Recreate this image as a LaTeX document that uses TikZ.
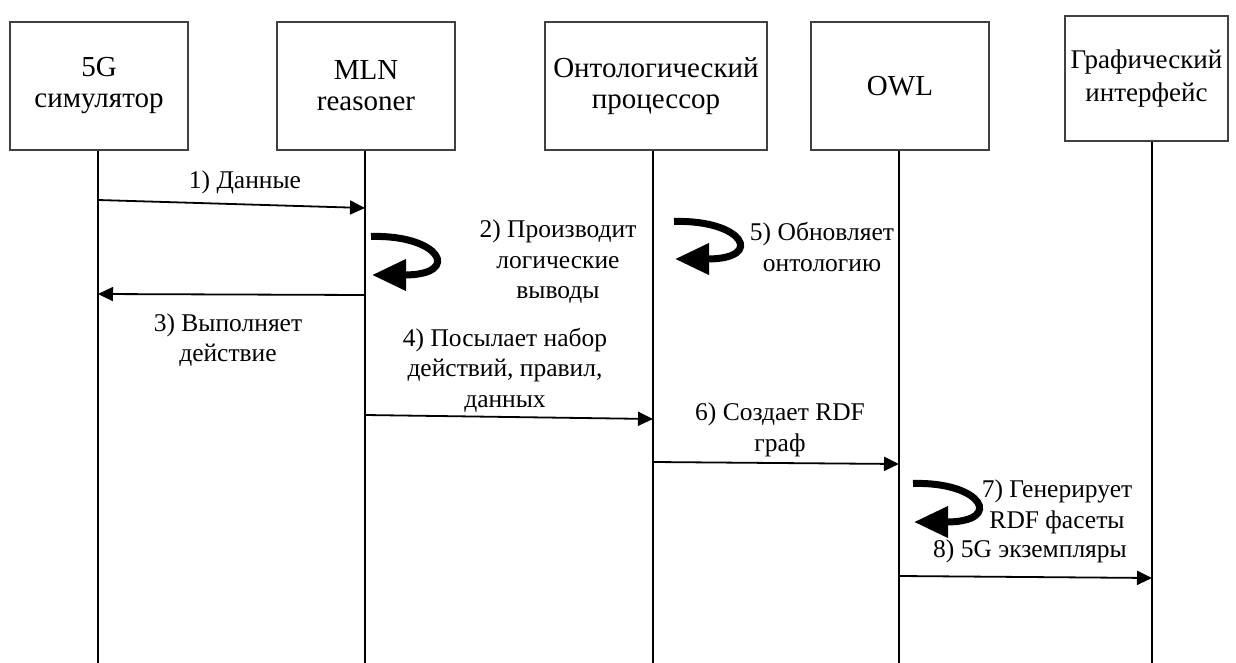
\documentclass[tikz,border=0pt]{standalone}
\usepackage{fontspec}
\setmainfont{Liberation Serif}
\usetikzlibrary{arrows.meta}
\tikzset{
 actor/.style={draw=black!75, line width=1.5pt, inner sep=0pt, align=center, font=\fontsize{29}{31}\selectfont},
 life/.style={line width=2pt},
 msg/.style={line width=1.8pt, -{Triangle[length=15pt,width=14pt]}},
 curl/.style={line width=7pt, -{Triangle[length=34pt,width=30pt]}},
 lbl/.style={align=center, font=\fontsize{25.5}{30.5}\selectfont, inner sep=0pt},
}
\begin{document}
\begin{tikzpicture}[x=1pt,y=-1pt]
\useasboundingbox (0,0) rectangle (1236,663);
% actors
\node[actor, minimum width=178pt, minimum height=128pt] (b1) at (99,86) {5G\\симулятор};
\node[actor, minimum width=178pt, minimum height=128pt] (b2) at (366,86) {MLN\\reasoner};
\node[actor, minimum width=222pt, minimum height=128pt] (b3) at (656,86) {Онтологический\\процессор};
\node[actor, minimum width=178pt, minimum height=128pt] (b4) at (900,86) {OWL};
\node[actor, minimum width=163pt, minimum height=125pt, font=\fontsize{27}{33}\selectfont] (b5) at (1146.5,78.5) {Графический\\интерфейс};
% lifeline ends
\coordinate (e1) at (98,663);
\coordinate (e2) at (365,663);
\coordinate (e3) at (653,663);
\coordinate (e4) at (899,663);
\coordinate (e5) at (1152,663);
\draw[life] (b1.south -| e1) -- (e1);
\draw[life] (b2.south -| e2) -- (e2);
\draw[life] (b3.south -| e3) -- (e3);
\draw[life] (b4.south -| e4) -- (e4);
\draw[life] (b5.south -| e5) -- (e5);
% message points
\coordinate (m1s) at (98,200);  \coordinate (m1e) at (365,208);
\coordinate (m3s) at (365,295); \coordinate (m3e) at (98,294);
\coordinate (m4s) at (365,415); \coordinate (m4e) at (653,419);
\coordinate (m6s) at (653,462); \coordinate (m6e) at (899,464);
\coordinate (m8s) at (899,576); \coordinate (m8e) at (1152,578);
\draw[msg] (m1s) -- (m1e);
\draw[msg] (m3s) -- (m3e);
\draw[msg] (m4s) -- (m4e);
\draw[msg] (m6s) -- (m6e);
\draw[msg] (m8s) -- (m8e);
% curls
\coordinate (c2) at (371,236.5); \coordinate (t2) at (372,275);
\coordinate (c5) at (674,221.5); \coordinate (t5) at (675,259);
\coordinate (c7) at (913,483.5); \coordinate (t7) at (914,522);
\draw[curl] (c2) .. controls +(70,-2) and +(90,0) .. (t2);
\draw[curl] (c5) .. controls +(70,-2) and +(90,0) .. (t5);
\draw[curl] (c7) .. controls +(70,-2) and +(90,0) .. (t7);
% labels
\node[lbl] (l1) at (245,182) {1) Данные};
\node[lbl] (l2) at (558,262) {2) Производит\\логические\\выводы};
\node[lbl] (l3) at (228,340) {3) Выполняет\\действие};
\node[lbl] (l4) at (505,370) {4) Посылает набор\\действий, правил,\\данных};
\node[lbl] (l5) at (822,247) {5) Обновляет\\онтологию};
\node[lbl] (l6) at (780,430) {6) Создает RDF\\граф};
\node[lbl] (l7) at (1057,507) {7) Генерирует\\RDF фасеты};
\node[lbl] (l8) at (1030,551) {8) 5G экземпляры};
\end{tikzpicture}
\end{document}
